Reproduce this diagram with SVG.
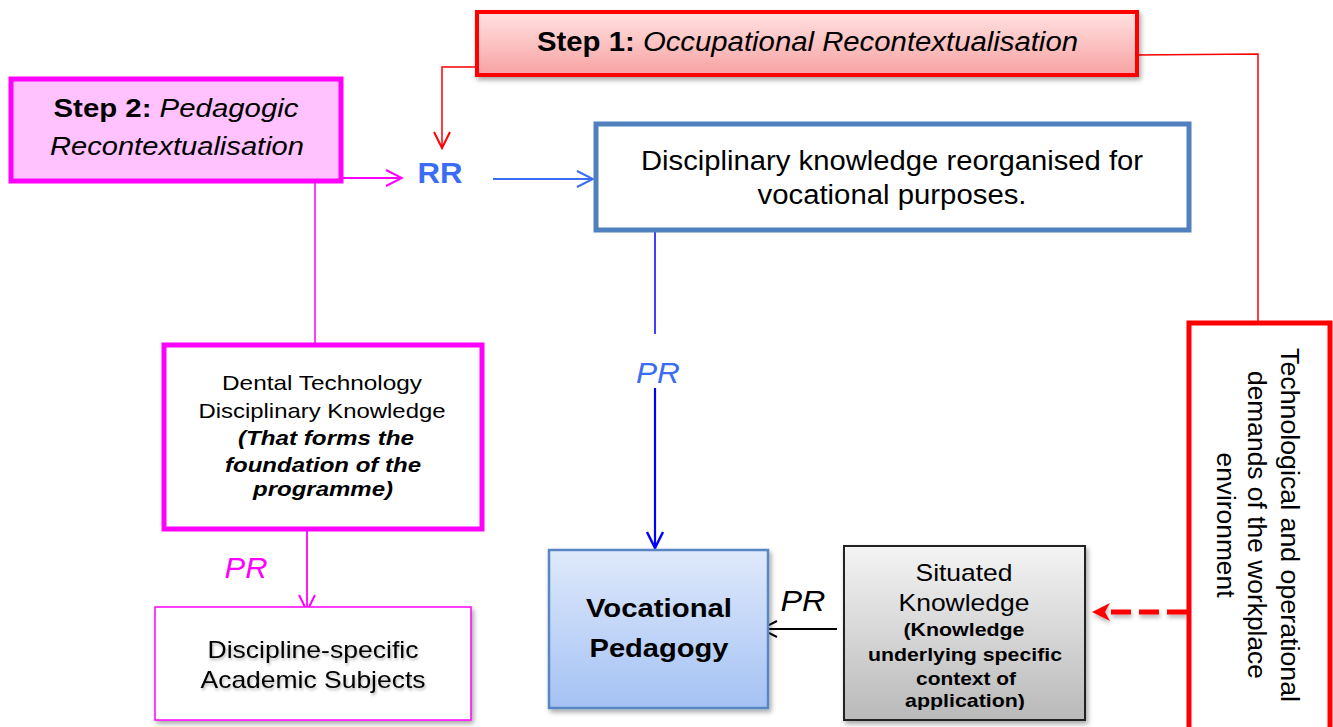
<svg xmlns="http://www.w3.org/2000/svg" width="1333" height="727" viewBox="0 0 1333 727">
  <defs>
    <linearGradient id="gStep1" x1="0" y1="0" x2="0" y2="1">
      <stop offset="0" stop-color="#ffe2e2"/>
      <stop offset="1" stop-color="#f8a2a2"/>
    </linearGradient>
    <linearGradient id="gVoc" x1="0" y1="0" x2="0" y2="1">
      <stop offset="0" stop-color="#dfe9fb"/>
      <stop offset="1" stop-color="#a4c2f4"/>
    </linearGradient>
    <linearGradient id="gSit" x1="0" y1="0" x2="0" y2="1">
      <stop offset="0" stop-color="#f4f4f4"/>
      <stop offset="1" stop-color="#b9b9b9"/>
    </linearGradient>
    <filter id="shadow" x="-10%" y="-10%" width="130%" height="140%">
      <feDropShadow dx="2" dy="3" stdDeviation="2.5" flood-color="#000" flood-opacity="0.35"/>
    </filter>
    <filter id="txtShadow" x="-10%" y="-30%" width="120%" height="170%">
      <feDropShadow dx="1" dy="2" stdDeviation="1.5" flood-color="#000" flood-opacity="0.3"/>
    </filter>
    <filter id="lineShadow" filterUnits="userSpaceOnUse" x="1070" y="590" width="130" height="50">
      <feDropShadow dx="1" dy="3" stdDeviation="2" flood-color="#000" flood-opacity="0.3"/>
    </filter>
    <clipPath id="sitClip">
      <rect x="845" y="547" width="239" height="163"/>
    </clipPath>
    <marker id="openArrowMag" viewBox="0 0 20 20" refX="18" refY="10" markerWidth="20" markerHeight="20" markerUnits="userSpaceOnUse" orient="auto">
      <path d="M2,2 L18,10 L2,18" fill="none" stroke="#ff00ff" stroke-width="2"/>
    </marker>
    <marker id="openArrowRed" viewBox="0 0 20 20" refX="18" refY="10" markerWidth="20" markerHeight="20" markerUnits="userSpaceOnUse" orient="auto">
      <path d="M2,2 L18,10 L2,18" fill="none" stroke="#ff0000" stroke-width="2"/>
    </marker>
    <marker id="openArrowBlueLt" viewBox="0 0 20 20" refX="18" refY="10" markerWidth="20" markerHeight="20" markerUnits="userSpaceOnUse" orient="auto">
      <path d="M2,2 L18,10 L2,18" fill="none" stroke="#3a6cf4" stroke-width="2"/>
    </marker>
    <marker id="openArrowBlue" viewBox="0 0 20 20" refX="18" refY="10" markerWidth="20" markerHeight="20" markerUnits="userSpaceOnUse" orient="auto">
      <path d="M2,2 L18,10 L2,18" fill="none" stroke="#0000ff" stroke-width="2.5"/>
    </marker>
    <marker id="openArrowBlack" viewBox="0 0 20 20" refX="18" refY="10" markerWidth="20" markerHeight="20" markerUnits="userSpaceOnUse" orient="auto">
      <path d="M2,2 L18,10 L2,18" fill="none" stroke="#000" stroke-width="2"/>
    </marker>
  </defs>
  <style>
    text { font-family: "Liberation Sans", Arial, sans-serif; fill: #000; }
    .b { font-weight: bold; }
    .i { font-style: italic; }
    .mid { text-anchor: middle; }
    .lbl { font-size: 30px; font-style: italic; }
  </style>

  <rect x="0" y="0" width="1333" height="727" fill="#ffffff"/>

  <!-- connectors -->
  <g id="connectors" fill="none">
    <!-- Step 1 down into RR -->
    <polyline points="477,67 442,67 442,148" stroke="#ff0000" stroke-width="1.5" marker-end="url(#openArrowRed)"/>
    <!-- Step 1 across to the workplace demands box -->
    <polyline points="1137,55 1258,54 1258,322" stroke="#ff0000" stroke-width="1.5"/>
    <!-- Step 2 into RR -->
    <line x1="342" y1="178" x2="402" y2="178" stroke="#ff00ff" stroke-width="1.8" marker-end="url(#openArrowMag)"/>
    <!-- RR into reorganised knowledge -->
    <line x1="493" y1="179" x2="593" y2="179" stroke="#3a6cf4" stroke-width="1.8" marker-end="url(#openArrowBlueLt)"/>
    <!-- Step 2 down to dental knowledge -->
    <line x1="315" y1="182" x2="315" y2="350" stroke="#ff00ff" stroke-width="1.5"/>
    <!-- reorganised knowledge down to vocational pedagogy -->
    <line x1="655" y1="230" x2="655" y2="334" stroke="#0000ff" stroke-width="1.5"/>
    <line x1="655" y1="388" x2="655" y2="548" stroke="#0000ff" stroke-width="2.2" marker-end="url(#openArrowBlue)"/>
    <!-- dental knowledge down to academic subjects -->
    <line x1="307" y1="531" x2="307" y2="611" stroke="#ff00ff" stroke-width="1.8" marker-end="url(#openArrowMag)"/>
    <!-- situated knowledge into vocational pedagogy -->
    <line x1="837" y1="629" x2="761" y2="629" stroke="#000" stroke-width="2" marker-end="url(#openArrowBlack)"/>
    <!-- workplace demands into situated knowledge (dashed, with solid head) -->
    <g filter="url(#lineShadow)">
      <line x1="1187" y1="612" x2="1106" y2="612" stroke="#ff0000" stroke-width="5" stroke-dasharray="20,8"/>
      <path d="M1092,612 L1110,603 L1105,612 L1110,621 Z" fill="#ff0000"/>
    </g>
  </g>

  <!-- connector labels -->
  <text x="440" y="183" class="b mid" font-size="29" style="fill:#3a6cf4" textLength="45" lengthAdjust="spacingAndGlyphs">RR</text>
  <text x="658" y="383" class="lbl mid" style="fill:#3a6cf4" textLength="44" lengthAdjust="spacingAndGlyphs">PR</text>
  <text x="246" y="578" class="lbl mid" style="fill:#ff00ff" textLength="43" lengthAdjust="spacingAndGlyphs">PR</text>
  <text x="803" y="611" class="lbl mid" textLength="45" lengthAdjust="spacingAndGlyphs">PR</text>

  <!-- Step 1 -->
  <g id="step1">
    <rect x="477" y="12" width="660" height="63" fill="url(#gStep1)" stroke="#ff0000" stroke-width="4" filter="url(#shadow)"/>
    <text x="537" y="51" font-size="27" textLength="541" lengthAdjust="spacingAndGlyphs"><tspan class="b">Step 1: </tspan><tspan class="i">Occupational Recontextualisation</tspan></text>
  </g>

  <!-- Step 2 -->
  <g id="step2">
    <rect x="11" y="79" width="330" height="102" fill="#ffc2ff" stroke="#ff00ff" stroke-width="5"/>
    <text x="176" y="117" class="mid" font-size="26" textLength="245" lengthAdjust="spacingAndGlyphs"><tspan class="b">Step 2: </tspan><tspan class="i">Pedagogic</tspan></text>
    <text x="177" y="155" class="mid i" font-size="26" textLength="254" lengthAdjust="spacingAndGlyphs">Recontextualisation</text>
  </g>

  <!-- Disciplinary knowledge reorganised -->
  <g id="reorganised">
    <rect x="596" y="124" width="593" height="106" fill="#ffffff" stroke="#5080be" stroke-width="5"/>
    <text x="892" y="170" class="mid" font-size="27" textLength="502" lengthAdjust="spacingAndGlyphs">Disciplinary knowledge reorganised for</text>
    <text x="892" y="204" class="mid" font-size="27" textLength="269" lengthAdjust="spacingAndGlyphs">vocational purposes.</text>
  </g>

  <!-- Dental technology knowledge -->
  <g id="dental">
    <rect x="164" y="345" width="318" height="184" fill="#ffffff" stroke="#ff00ff" stroke-width="5"/>
    <text x="322" y="390" class="mid" font-size="21" textLength="200" lengthAdjust="spacingAndGlyphs">Dental Technology</text>
    <text x="322" y="418" class="mid" font-size="21" textLength="247" lengthAdjust="spacingAndGlyphs">Disciplinary Knowledge</text>
    <text x="326" y="445" class="mid b i" font-size="20" textLength="176" lengthAdjust="spacingAndGlyphs">(That forms the</text>
    <text x="323" y="472" class="mid b i" font-size="20" textLength="196" lengthAdjust="spacingAndGlyphs">foundation of the</text>
    <text x="323" y="496" class="mid b i" font-size="20" textLength="140" lengthAdjust="spacingAndGlyphs">programme)</text>
  </g>

  <!-- Academic subjects -->
  <g id="academic">
    <rect x="155" y="607" width="316" height="113" fill="#ffffff" stroke="#ff00ff" stroke-width="1.5" filter="url(#shadow)"/>
    <g filter="url(#txtShadow)">
      <text x="313" y="658" class="mid" font-size="24" textLength="211" lengthAdjust="spacingAndGlyphs">Discipline-specific</text>
      <text x="313" y="688" class="mid" font-size="24" textLength="225" lengthAdjust="spacingAndGlyphs">Academic Subjects</text>
    </g>
  </g>

  <!-- Vocational pedagogy -->
  <g id="vocational">
    <rect x="549" y="550" width="219" height="158" fill="url(#gVoc)" stroke="#5a86c4" stroke-width="2.5" filter="url(#shadow)"/>
    <text x="659" y="617" class="mid b" font-size="26" textLength="146" lengthAdjust="spacingAndGlyphs">Vocational</text>
    <text x="659" y="657" class="mid b" font-size="26" textLength="139" lengthAdjust="spacingAndGlyphs">Pedagogy</text>
  </g>

  <!-- Situated knowledge -->
  <g id="situated">
    <rect x="844" y="546" width="241" height="174" fill="url(#gSit)" stroke="#222222" stroke-width="2" filter="url(#shadow)"/>
    <g clip-path="url(#sitClip)">
      <text x="964" y="581" class="mid" font-size="24" textLength="97" lengthAdjust="spacingAndGlyphs">Situated</text>
      <text x="964" y="611" class="mid" font-size="24" textLength="131" lengthAdjust="spacingAndGlyphs">Knowledge</text>
      <text x="964" y="636" class="mid b" font-size="19" textLength="121" lengthAdjust="spacingAndGlyphs">(Knowledge</text>
      <text x="965" y="661" class="mid b" font-size="19" textLength="194" lengthAdjust="spacingAndGlyphs">underlying specific</text>
      <text x="966" y="685" class="mid b" font-size="19" textLength="100" lengthAdjust="spacingAndGlyphs">context of</text>
      <text x="965" y="707" class="mid b" font-size="19" textLength="120" lengthAdjust="spacingAndGlyphs">application)</text>
    </g>
  </g>

  <!-- Technological and operational demands -->
  <g id="workplace">
    <rect x="1189" y="323" width="141" height="410" fill="#ffffff" stroke="#ff0000" stroke-width="5"/>
    <g transform="translate(1281,525) rotate(90)">
      <text x="0" y="0" class="mid" font-size="25" textLength="354" lengthAdjust="spacingAndGlyphs">Technological and operational</text>
      <text x="0" y="33" class="mid" font-size="25" textLength="308" lengthAdjust="spacingAndGlyphs">demands of the workplace</text>
      <text x="0" y="64" class="mid" font-size="25" textLength="145" lengthAdjust="spacingAndGlyphs">environment</text>
    </g>
  </g>
</svg>
